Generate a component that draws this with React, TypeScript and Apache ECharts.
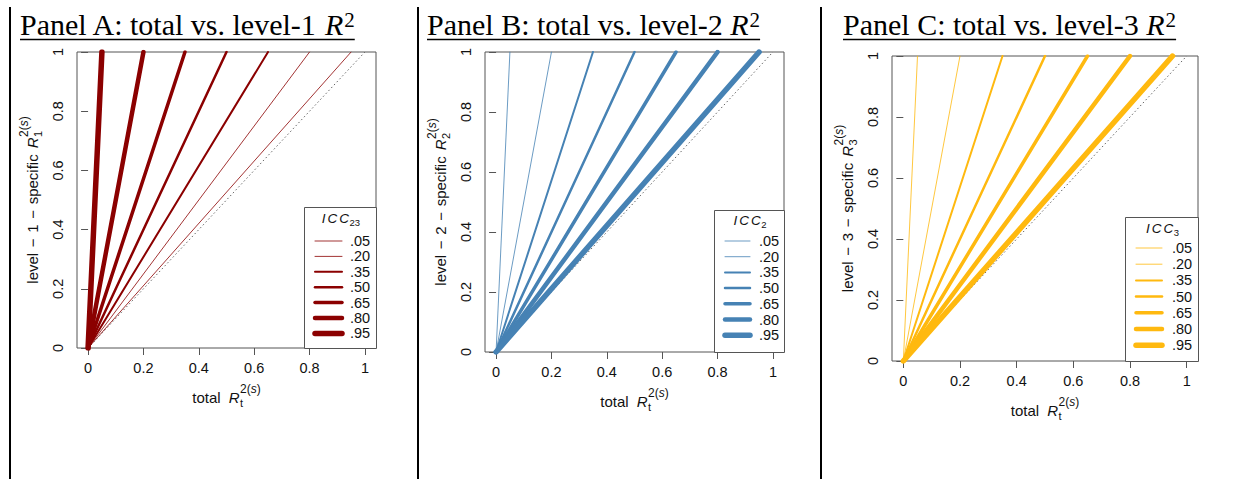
import React, { useEffect, useRef } from 'react';
import * as echarts from 'echarts';

// ---------- data ----------
const xTicks = [0, 0.2, 0.4, 0.6, 0.8, 1];
const xTickLabels = ['0', '0.2', '0.4', '0.6', '0.8', '1'];
const yTicks = [0, 0.2, 0.4, 0.6, 0.8, 1];
const yTickLabels = ['0', '0.2', '0.4', '0.6', '0.8', '1'];
const iccLabels = ['.05', '.20', '.35', '.50', '.65', '.80', '.95'];
const lineWidths = [1, 1, 2, 2.5, 3.5, 4.5, 5.5];
// x value (total R2) at which each ICC line reaches level-specific R2 = 1
const panelAEnds = [0.95, 0.8, 0.65, 0.5, 0.35, 0.2, 0.05];
const panelBEnds = [0.05, 0.2, 0.35, 0.5, 0.65, 0.8, 0.95];
const panelCEnds = [0.05, 0.2, 0.35, 0.5, 0.65, 0.8, 0.95];
const diagonal = [[0, 0], [1, 1]];
const panelTitles = ['Panel A: total vs. level-1 ', 'Panel B: total vs. level-2 ', 'Panel C: total vs. level-3 '];
const yTitleLevels = ['1', '2', '3'];
const legendSubs = ['23', '2', '3'];
const panelColors = ['#8B0000', '#4682B4', '#FFB90F'];

// ---------- layout ----------
const layout = [
  { box: [77, 52, 299, 296], titleX: 20,
    legend: { x: 304, y: 207, w: 72, h: 141, titleY: 218, y0: 241, step: 15.4, l1: 315, l2: 342, lx: 350 } },
  { box: [485, 52, 299, 300], titleX: 427,
    legend: { x: 714, y: 210, w: 70, h: 142, titleY: 220, y0: 241, step: 15.7, l1: 725, l2: 750, lx: 759 } },
  { box: [892, 56, 306, 305], titleX: 843,
    legend: { x: 1125, y: 217, w: 73, h: 144, titleY: 228, y0: 248, step: 16.2, l1: 1136, l2: 1162, lx: 1172 } },
];

const SANS = '"Liberation Sans", Arial, sans-serif';
const SERIF = '"Liberation Serif", "Times New Roman", serif';

let measureCtx: CanvasRenderingContext2D | null = null;
function textWidth(t: string, font: string) {
  if (!measureCtx) measureCtx = document.createElement('canvas').getContext('2d');
  if (!measureCtx) return t.length * 7;
  measureCtx.font = font;
  return measureCtx.measureText(t).width;
}

type Part = { t: string; size: number; italic?: boolean; dy?: number; mark?: boolean; back?: boolean; gap?: number };

function buildMath(parts: Part[], family: string, color: string) {
  let cx = 0, markX = 0, maxX = 0;
  const children: any[] = [];
  for (const p of parts) {
    if (p.back) cx = markX;
    if (p.mark) markX = cx;
    const font = `${p.italic ? 'italic ' : ''}${p.size}px ${family}`;
    children.push({
      type: 'text', x: cx, y: (p.dy || 0) - 0.35 * p.size, z: 25,
      style: { text: p.t, font, fill: color, textAlign: 'left', textVerticalAlign: 'middle' },
    });
    cx += textWidth(p.t, font) + (p.gap || 0);
    maxX = Math.max(maxX, cx);
  }
  return { children, width: maxX };
}

function mathGroup(parts: Part[], family: string, color: string, x: number, y: number, align: 'left' | 'center', rotation = 0) {
  const m = buildMath(parts, family, color);
  const shift = align === 'center' ? -m.width / 2 : 0;
  m.children.forEach((c) => (c.x += shift));
  return { group: { type: 'group', x, y, rotation, children: m.children, z: 25 }, width: m.width };
}

function buildOption() {
  const ends = [panelAEnds, panelBEnds, panelCEnds];
  const grid: any[] = [], xAxis: any[] = [], yAxis: any[] = [], series: any[] = [], graphic: any[] = [];

  [10, 418, 821].forEach((x) =>
    graphic.push({ type: 'line', shape: { x1: x, y1: 7, x2: x, y2: 479 }, style: { stroke: '#000', lineWidth: 2 }, z: 20 })
  );

  layout.forEach((L, i) => {
    const [bx, by, bw, bh] = L.box;
    const color = panelColors[i];
    grid.push({ left: bx, top: by, width: bw, height: bh, show: true, borderColor: '#555', borderWidth: 1, backgroundColor: 'transparent' });
    xAxis.push({
      type: 'value', gridIndex: i, min: -0.04, max: 1.04,
      axisLine: { show: false }, splitLine: { show: false },
      axisTick: { show: true, inside: false, length: 7, lineStyle: { color: '#555' }, customValues: xTicks },
      axisLabel: {
        customValues: xTicks, margin: 12, color: '#111', fontSize: 14.5, fontFamily: SANS,
        formatter: (v: number) => xTickLabels[xTicks.findIndex((t) => Math.abs(t - v) < 1e-6)] ?? '',
      },
    });
    yAxis.push({
      type: 'value', gridIndex: i, min: 0, max: 1, interval: 0.2,
      axisLine: { show: false }, splitLine: { show: false },
      axisTick: { show: true, inside: false, length: 7, lineStyle: { color: '#555' } },
      axisLabel: {
        rotate: 90, margin: 12, color: '#111', fontSize: 14.5, fontFamily: SANS,
        formatter: (v: number) => yTickLabels[yTicks.findIndex((t) => Math.abs(t - v) < 1e-6)] ?? '',
      },
    });
    series.push({
      type: 'line', xAxisIndex: i, yAxisIndex: i, data: diagonal, symbol: 'none', silent: true,
      lineStyle: { color: '#666', width: 1, type: [1.5, 2.5] }, z: 2,
    });
    ends[i].forEach((e, j) => {
      series.push({
        type: 'line', name: iccLabels[j], xAxisIndex: i, yAxisIndex: i, data: [[0, 0], [e, 1]], symbol: 'none', silent: true,
        lineStyle: { color, width: lineWidths[j], cap: 'round', opacity: lineWidths[j] <= 1 ? 0.8 : 1 }, z: 3,
      });
    });

    // title
    const t = mathGroup(
      [
        { t: panelTitles[i], size: 30 },
        { t: 'R', size: 30, italic: true, gap: 1 },
        { t: '2', size: 21, dy: -8 },
      ],
      SERIF, '#000', L.titleX, 35, 'left'
    );
    graphic.push(t.group);
    graphic.push({ type: 'line', shape: { x1: L.titleX, y1: 39.5, x2: L.titleX + t.width, y2: 39.5 }, style: { stroke: '#000', lineWidth: 1.5 }, z: 20 });

    // x-axis title
    const xt = mathGroup(
      [
        { t: 'total', size: 15, gap: 8 },
        { t: 'R', size: 15, italic: true, gap: 0.5 },
        { t: 't', size: 11, dy: 4, mark: true },
        { t: '2(', size: 12, dy: -10, back: true },
        { t: 's', size: 12, dy: -10, italic: true },
        { t: ')', size: 12, dy: -10 },
      ],
      SANS, '#111', bx + bw / 2, by + bh + 55, 'center'
    );
    graphic.push(xt.group);

    // y-axis title
    const yt = mathGroup(
      [
        { t: 'level ', size: 15, gap: 1.5 },
        { t: '\u2212 ', size: 15, gap: 1.5 },
        { t: `${yTitleLevels[i]} `, size: 15, gap: 1.5 },
        { t: '\u2212 ', size: 15, gap: 1.5 },
        { t: 'specific', size: 15, gap: 6 },
        { t: 'R', size: 15, italic: true, gap: 0.5 },
        { t: yTitleLevels[i], size: 11, dy: 4, mark: true },
        { t: '2(', size: 12, dy: -10, back: true },
        { t: 's', size: 12, dy: -10, italic: true },
        { t: ')', size: 12, dy: -10 },
      ],
      SANS, '#111', bx - 39, by + bh / 2, 'center', Math.PI / 2
    );
    graphic.push(yt.group);

    // legend
    const lg = L.legend;
    graphic.push({ type: 'rect', shape: { x: lg.x + 0.5, y: lg.y + 0.5, width: lg.w, height: lg.h }, style: { fill: '#fff', stroke: '#555', lineWidth: 1 }, z: 15 });
    const lt = mathGroup(
      [
        { t: 'I', size: 13.5, italic: true, gap: 2 },
        { t: 'C', size: 13.5, italic: true, gap: 2 },
        { t: 'C', size: 13.5, italic: true, gap: 0.5 },
        { t: legendSubs[i], size: 9.5, dy: 3 },
      ],
      SANS, '#111', lg.x + lg.w / 2 + 1, lg.titleY + 5, 'center'
    );
    graphic.push(lt.group);
    iccLabels.forEach((lab, j) => {
      const yy = lg.y0 + j * lg.step;
      graphic.push({ type: 'line', shape: { x1: lg.l1, y1: yy, x2: lg.l2, y2: yy }, style: { stroke: color, lineWidth: lineWidths[j], lineCap: 'round', opacity: lineWidths[j] <= 1 ? 0.8 : 1 }, z: 20 });
      graphic.push({ type: 'text', x: lg.lx, y: yy, style: { text: lab, font: `14.5px ${SANS}`, fill: '#111', textAlign: 'left', textVerticalAlign: 'middle' }, z: 20 });
    });
  });

  return { animation: false, backgroundColor: '#fff', grid, xAxis, yAxis, series, graphic };
}

export default function App() {
  const ref = useRef<HTMLDivElement>(null);
  useEffect(() => {
    if (!ref.current) return;
    const chart = echarts.init(ref.current, undefined, { renderer: 'svg' });
    chart.setOption(buildOption() as any);
    return () => chart.dispose();
  }, []);
  return <div ref={ref} style={{ position: 'absolute', left: 0, top: 0, width: 1245, height: 479, background: '#fff' }} />;
}
